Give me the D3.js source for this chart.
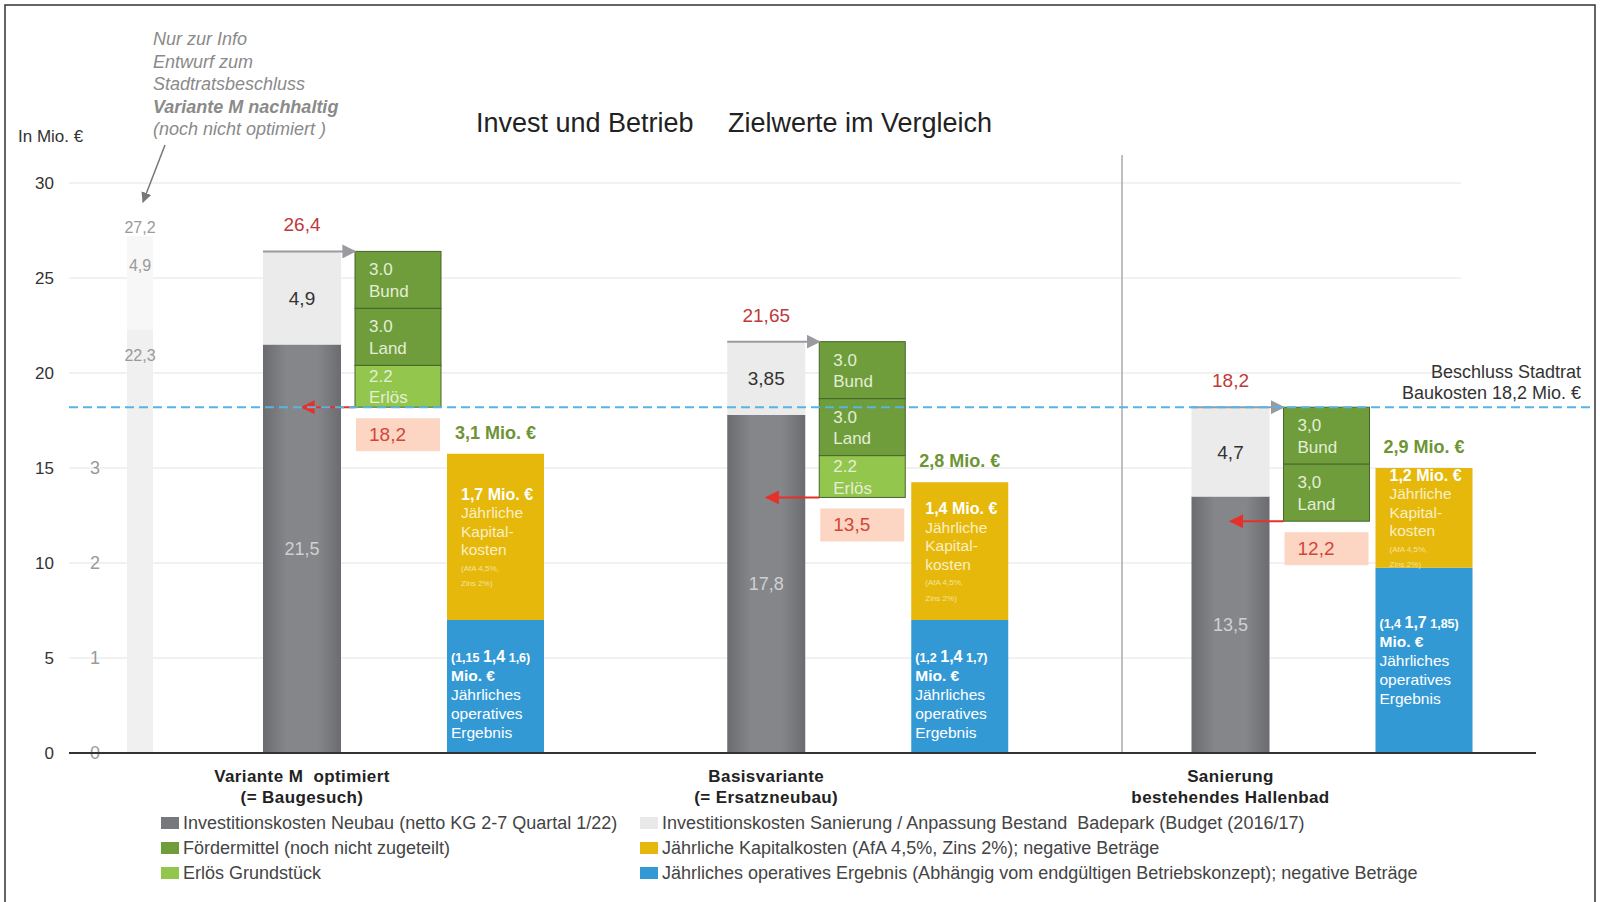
<!DOCTYPE html>
<html>
<head>
<meta charset="utf-8" />
<title>Invest und Betrieb</title>
<script src="https://d3js.org/d3.v7.min.js"></script>
<style>
  body { margin: 0; background: #fff; }
  svg { font-family: "Liberation Sans", Arial, sans-serif; }
  text { white-space: pre; }
</style>
</head>
<body>
<svg id="svg" width="1600" height="902"></svg>
<script>
// --- data ---
var catLine1 = ["Variante M  optimiert", "Basisvariante", "Sanierung"];
var catLine2 = ["(= Baugesuch)", "(= Ersatzneubau)", "bestehendes Hallenbad"];
var neubau = [21.5, 17.8, 13.5];
var bestand = [4.9, 3.85, 4.7];
var totalLabels = ["26,4", "21,65", "18,2"];
var neubauLabels = ["21,5", "17,8", "13,5"];
var bestandLabels = ["4,9", "3,85", "4,7"];
var bund = [3.0, 3.0, 3.0];
var land = [3.0, 3.0, 3.0];
var erloes = [2.2, 2.2, 0];
var bundLabels = ["3.0", "3.0", "3,0"];
var landLabels = ["3.0", "3.0", "3,0"];
var erloesLabels = ["2.2", "2.2", ""];
var nettoLabels = ["18,2", "13,5", "12,2"];
// yearly costs (right scale)
var operativ = [1.4, 1.4, 1.95];
var kapital = [1.75, 1.45, 1.05];
var jahrLabels = ["3,1 Mio. €", "2,8 Mio. €", "2,9 Mio. €"];
var kapitalLabels = ["1,7 Mio. €", "1,4 Mio. €", "1,2 Mio. €"];
var operativLabels = [["(1,15 ", "1,4", " 1,6)"], ["(1,2 ", "1,4", " 1,7)"], ["(1,4 ", "1,7", " 1,85)"]];
// info bar "Variante M nachhaltig"
var ghostValues = [22.3, 4.9];
var ghostLabels = ["22,3", "4,9", "27,2"];
var beschluss = 18.2;
var yTicks = [0, 5, 10, 15, 20, 25, 30];
var y2Ticks = [0, 1, 2, 3];
var legendItems = [
  ["#76787c", "Investitionskosten Neubau (netto KG 2-7 Quartal 1/22)"],
  ["#e9e9e9", "Investitionskosten Sanierung / Anpassung Bestand  Badepark (Budget (2016/17)"],
  ["#6f9d3c", "Fördermittel (noch nicht zugeteilt)"],
  ["#e5b80b", "Jährliche Kapitalkosten (AfA 4,5%, Zins 2%); negative Beträge"],
  ["#93c64c", "Erlös Grundstück"],
  ["#3399d5", "Jährliches operatives Ergebnis (Abhängig vom endgültigen Betriebskonzept); negative Beträge"]
];

var svg = d3.select("#svg");

var y = d3.scaleLinear().domain([0, 30]).range([753, 183]);
var y2 = d3.scaleLinear().domain([0, 6]).range([753, 183]);
var x = d3.scalePoint().domain(d3.range(3)).range([302, 1230.5]);

// frame
svg.append("rect").attr("x", 5).attr("y", 5).attr("width", 1590).attr("height", 905)
  .attr("fill", "none").attr("stroke", "#333").attr("stroke-width", 1.5);

var defs = svg.append("defs");
var grad = defs.append("linearGradient").attr("id", "darkbar");
grad.append("stop").attr("offset", "0%").attr("stop-color", "#6a6c70");
grad.append("stop").attr("offset", "30%").attr("stop-color", "#84868a");
grad.append("stop").attr("offset", "70%").attr("stop-color", "#84868a");
grad.append("stop").attr("offset", "100%").attr("stop-color", "#6a6c70");
function marker(id, color) {
  defs.append("marker").attr("id", id).attr("viewBox", "0 0 10 10")
    .attr("refX", 9).attr("refY", 5).attr("markerWidth", 7).attr("markerHeight", 7)
    .attr("orient", "auto").attr("markerUnits", "strokeWidth")
    .append("path").attr("d", "M0,0L10,5L0,10z").attr("fill", color);
}
marker("arrGray", "#9a9aa0");
marker("arrRed", "#e8302a");
marker("arrInfo", "#777");

// gridlines
svg.append("g").selectAll("line").data(yTicks.filter(function(d) { return d > 0; }))
  .join("line").attr("x1", 69).attr("x2", 1461)
  .attr("y1", function(d) { return y(d); }).attr("y2", function(d) { return y(d); })
  .attr("stroke", "#ececec").attr("stroke-width", 1.5);

// y axis labels
var yAxis = svg.append("g").attr("transform", "translate(60,0)")
  .call(d3.axisLeft(y).tickValues(yTicks).tickSize(0).tickPadding(6));
yAxis.select(".domain").remove();
yAxis.selectAll("text").attr("font-size", 17).attr("fill", "#333")
  .attr("font-family", "Liberation Sans, Arial, sans-serif");
var y2Axis = svg.append("g").attr("transform", "translate(100,0)")
  .call(d3.axisLeft(y2).tickValues(y2Ticks).tickFormat(d3.format("d")).tickSize(0).tickPadding(0));
y2Axis.select(".domain").remove();
y2Axis.selectAll("text").attr("font-size", 18).attr("fill", "#999")
  .attr("font-family", "Liberation Sans, Arial, sans-serif");

svg.append("text").attr("x", 18).attr("y", 142).attr("font-size", 17).attr("fill", "#333")
  .text("In Mio. €");

// title
svg.append("text").attr("x", 476).attr("y", 132).attr("font-size", 27).attr("fill", "#222")
  .text("Invest und Betrieb");
svg.append("text").attr("x", 728).attr("y", 132).attr("font-size", 27).attr("fill", "#222")
  .text("Zielwerte im Vergleich");

// info annotation
var info = ["Nur zur Info", "Entwurf zum", "Stadtratsbeschluss", "Variante M nachhaltig", "(noch nicht optimiert )"];
svg.append("g").selectAll("text").data(info).join("text")
  .attr("x", 153).attr("y", function(d, i) { return 45 + i * 22.5; })
  .attr("font-size", 18).attr("font-style", "italic").attr("fill", "#8a8a8a")
  .attr("font-weight", function(d, i) { return i === 3 ? "bold" : "normal"; })
  .text(function(d) { return d; });
svg.append("line").attr("x1", 165).attr("y1", 145).attr("x2", 143).attr("y2", 202)
  .attr("stroke", "#777").attr("stroke-width", 1.5).attr("marker-end", "url(#arrInfo)");

// ghost bar
var gx = x(0) - 175, gw = 26;
svg.append("rect").attr("x", gx).attr("width", gw).attr("y", y(ghostValues[0])).attr("height", y(0) - y(ghostValues[0]))
  .attr("fill", "#f0f0f0");
svg.append("rect").attr("x", gx).attr("width", gw).attr("y", y(ghostValues[0] + ghostValues[1]))
  .attr("height", y(0) - y(ghostValues[1])).attr("fill", "#f7f7f7");
svg.append("g").selectAll("text")
  .data([[ghostLabels[0], y(ghostValues[0]) + 32], [ghostLabels[1], y(ghostValues[0] + ghostValues[1] / 2) - 12],
         [ghostLabels[2], y(ghostValues[0] + ghostValues[1]) - 3]])
  .join("text").attr("x", gx + gw / 2).attr("y", function(d) { return d[1]; })
  .attr("text-anchor", "middle").attr("font-size", 16).attr("fill", "#999")
  .text(function(d) { return d[0]; });

// separator
svg.append("line").attr("x1", 1122).attr("x2", 1122).attr("y1", 155).attr("y2", 753)
  .attr("stroke", "#aaa").attr("stroke-width", 1.5);

var groups = svg.append("g").selectAll("g").data(d3.range(3)).join("g");

var barW = 78, greenL = 53, greenW = 86, yrL = 145, yrW = 97;

groups.each(function(i) {
  var g = d3.select(this);
  var cx = x(i);
  var top = neubau[i] + bestand[i];
  // dark bar
  g.append("rect").attr("x", cx - barW / 2).attr("width", barW)
    .attr("y", y(neubau[i])).attr("height", y(0) - y(neubau[i])).attr("fill", "url(#darkbar)");
  g.append("rect").attr("x", cx - barW / 2).attr("width", barW)
    .attr("y", y(top)).attr("height", y(neubau[i]) - y(top)).attr("fill", "#ebebeb");
  g.append("text").attr("x", cx).attr("y", y(neubau[i] / 2) + 6).attr("text-anchor", "middle")
    .attr("font-size", 18).attr("fill", "#d0d0d0").text(neubauLabels[i]);
  g.append("text").attr("x", cx).attr("y", y(neubau[i] + bestand[i] / 2) + 7).attr("text-anchor", "middle")
    .attr("font-size", 19).attr("fill", "#333").text(bestandLabels[i]);
  g.append("text").attr("x", cx).attr("y", y(top) - 20).attr("text-anchor", "middle")
    .attr("font-size", 19).attr("fill", "#c0393b").text(totalLabels[i]);

  // green stack (downwards from top)
  var segs = [[bund[i], bundLabels[i], "Bund", "#6f9d3c"], [land[i], landLabels[i], "Land", "#6f9d3c"],
              [erloes[i], erloesLabels[i], "Erlös", "#93c64c"]].filter(function(s) { return s[0] > 0; });
  var cur = top;
  segs.forEach(function(s) {
    var y0 = y(cur), y1 = y(cur - s[0]), mid = (y0 + y1) / 2;
    g.append("rect").attr("x", cx + greenL).attr("width", greenW).attr("y", y0).attr("height", y1 - y0)
      .attr("fill", s[3]).attr("stroke", "#46652a").attr("stroke-width", 1);
    g.append("text").attr("x", cx + greenL + 14).attr("y", mid - 10.5).attr("dy", "0.35em").attr("font-size", 17)
      .attr("fill", "#e4eed6").text(s[1]);
    g.append("text").attr("x", cx + greenL + 14).attr("y", mid + 11).attr("dy", "0.35em").attr("font-size", 17)
      .attr("fill", "#e4eed6").text(s[2]);
    cur -= s[0];
  });
  var bottom = cur;
  // netto box
  g.append("rect").attr("x", cx + greenL + 1).attr("width", greenW - 2).attr("y", y(bottom) + 11).attr("height", 33)
    .attr("fill", "#fcd6c2");
  g.append("text").attr("x", cx + greenL + 14).attr("y", y(bottom) + 34)
    .attr("font-size", 19).attr("fill", "#d2453c").text(nettoLabels[i]);

  // yearly stack on right scale
  var bTop = y2(operativ[i]), kTop = y2(operativ[i] + kapital[i]);
  g.append("rect").attr("x", cx + yrL).attr("width", yrW).attr("y", bTop).attr("height", y2(0) - bTop)
    .attr("fill", "#3399d5");
  g.append("rect").attr("x", cx + yrL).attr("width", yrW).attr("y", kTop).attr("height", bTop - kTop)
    .attr("fill", "#e5b80b");
  g.append("text").attr("x", cx + yrL + yrW / 2).attr("y", kTop - 15).attr("text-anchor", "middle")
    .attr("font-size", 18).attr("font-weight", "bold").attr("fill", "#6e9434").text(jahrLabels[i]);

  // kapital text block, centred in segment
  var kLines = [[kapitalLabels[i], 16, "bold", "#fff"], ["Jährliche", 15.5, "normal", "#fbefc4"],
                ["Kapital-", 15.5, "normal", "#fbefc4"], ["kosten", 15.5, "normal", "#fbefc4"],
                ["(AfA 4,5%,", 8, "normal", "#f5e3a0"], ["Zins 2%)", 8, "normal", "#f5e3a0"]];
  var kStart = (kTop + bTop) / 2 - 43 + 6;
  kLines.forEach(function(l, j) {
    g.append("text").attr("x", cx + yrL + 14).attr("y", kStart + j * 18.5 - (j > 3 ? 3 * (j - 3) : 0))
      .attr("font-size", l[1]).attr("font-weight", l[2]).attr("fill", l[3]).text(l[0]);
  });
  // operativ text block
  var oStart = (bTop + y2(0)) / 2 - 32 + (i < 2 ? 7 : 0);
  var t0 = g.append("text").attr("x", cx + yrL + 4).attr("y", oStart).attr("fill", "#fff").attr("font-weight", "bold");
  t0.append("tspan").attr("font-size", 12.5).text(operativLabels[i][0]);
  t0.append("tspan").attr("font-size", 16).text(operativLabels[i][1]);
  t0.append("tspan").attr("font-size", 12.5).text(operativLabels[i][2]);
  var oLines = [["Mio. €", "bold"], ["Jährliches", "normal"], ["operatives", "normal"], ["Ergebnis", "normal"]];
  oLines.forEach(function(l, j) {
    g.append("text").attr("x", cx + yrL + 4).attr("y", oStart + (j + 1) * 19)
      .attr("font-size", 15.5).attr("font-weight", l[1]).attr("fill", "#fff").text(l[0]);
  });

  // category labels
  g.append("text").attr("x", cx).attr("y", 782).attr("text-anchor", "middle").attr("font-size", 17)
    .attr("letter-spacing", 0.4).attr("font-weight", "bold").attr("fill", "#222").text(catLine1[i]);
  g.append("text").attr("x", cx).attr("y", 803).attr("text-anchor", "middle").attr("font-size", 17)
    .attr("letter-spacing", 0.4).attr("font-weight", "bold").attr("fill", "#222").text(catLine2[i]);

  // gray arrow (top) and red arrow (bottom)
  g.append("line").attr("x1", cx - barW / 2).attr("x2", cx + greenL).attr("y1", y(top)).attr("y2", y(top))
    .attr("stroke", "#9a9aa0").attr("stroke-width", 2).attr("marker-end", "url(#arrGray)");
  g.append("line").attr("x1", cx + greenL).attr("x2", cx).attr("y1", y(bottom)).attr("y2", y(bottom))
    .attr("stroke", "#e8302a").attr("stroke-width", 2).attr("marker-end", "url(#arrRed)");
});

// x axis line
svg.append("line").attr("x1", 69).attr("x2", 1536).attr("y1", y(0)).attr("y2", y(0))
  .attr("stroke", "#333").attr("stroke-width", 2);

// Beschluss line
svg.append("line").attr("x1", 69).attr("x2", 1594).attr("y1", y(beschluss)).attr("y2", y(beschluss))
  .attr("stroke", "#5ab4e2").attr("stroke-width", 2).attr("stroke-dasharray", "9,5");
svg.append("text").attr("x", 1581).attr("y", 378).attr("text-anchor", "end").attr("font-size", 18)
  .attr("fill", "#333").text("Beschluss Stadtrat");
svg.append("text").attr("x", 1581).attr("y", 399).attr("text-anchor", "end").attr("font-size", 18)
  .attr("fill", "#333").text("Baukosten 18,2 Mio. €");

// legend
var leg = svg.append("g").selectAll("g").data(legendItems).join("g")
  .attr("transform", function(d, i) {
    return "translate(" + (i % 2 === 0 ? 161 : 640) + "," + (823 + Math.floor(i / 2) * 25) + ")";
  });
leg.append("rect").attr("x", 0).attr("y", -6).attr("width", 18).attr("height", 12)
  .attr("fill", function(d) { return d[0]; });
leg.append("text").attr("x", 22).attr("y", 6).attr("font-size", 18).attr("fill", "#444")
  .text(function(d) { return d[1]; });
</script>
</body>
</html>
